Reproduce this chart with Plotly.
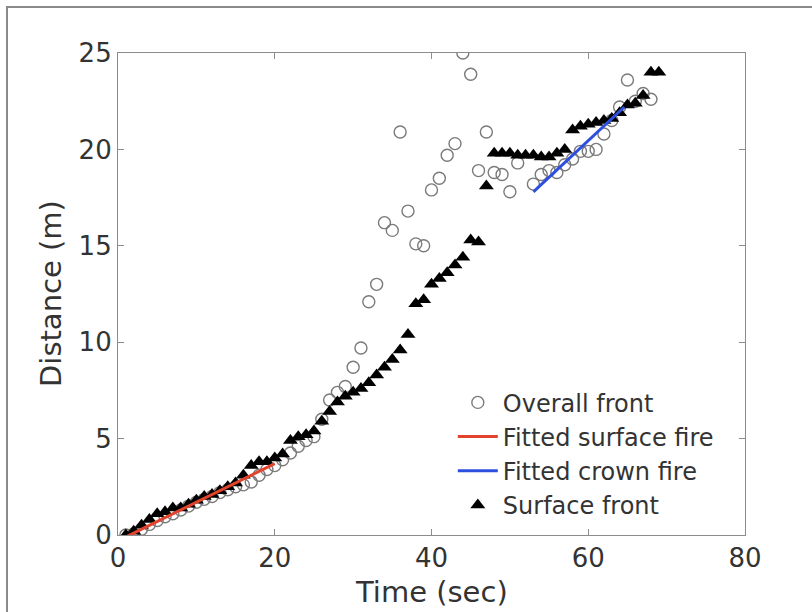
import plotly.graph_objects as go

# Overall front (open circles)
overall_t = [1, 2, 3, 4, 5, 6, 7, 8, 9, 10, 11, 12, 13, 14, 15, 16, 17, 18, 19, 20,
             21, 22, 23, 24, 25, 26, 27, 28, 29, 30, 31, 32, 33, 34, 35, 36, 37, 38, 39, 40,
             41, 42, 43, 44, 45, 46, 47, 48, 49, 50, 51, 53, 54, 55, 56, 57, 58, 59, 60,
             61, 62, 63, 64, 65, 66, 67, 68]
overall_d = [0.0, 0.05, 0.3, 0.55, 0.75, 0.95, 1.1, 1.3, 1.5, 1.7, 1.85, 2.0, 2.2, 2.35, 2.5, 2.6, 2.75, 3.1, 3.4, 3.6,
             3.9, 4.25, 4.6, 4.9, 5.1, 6.0, 7.0, 7.4, 7.7, 8.7, 9.7, 12.1, 13.0, 16.2, 15.8, 20.9, 16.8, 15.1, 15.0, 17.9,
             18.5, 19.7, 20.3, 25.0, 23.9, 18.9, 20.9, 18.8, 18.7, 17.8, 19.3, 18.2, 18.7, 18.9, 18.8, 19.2, 19.5, 19.9, 19.9,
             20.0, 20.8, 21.5, 22.2, 23.6, 22.5, 22.9, 22.6]

# Surface front (filled triangles)
surface_t = list(range(1, 70))
surface_d = [0.0, 0.2, 0.5, 0.8, 1.1, 1.2, 1.4, 1.4, 1.6, 1.8, 2.0, 2.1, 2.3, 2.5, 2.7, 3.1, 3.6, 3.8, 3.8, 4.0,
             4.2, 4.9, 5.1, 5.2, 5.4, 5.9, 6.4, 6.9, 7.2, 7.4, 7.6, 7.9, 8.3, 8.7, 9.1, 9.6, 10.4, 12.0, 12.2, 13.0,
             13.3, 13.6, 14.0, 14.4, 15.3, 15.2, 18.1, 19.8, 19.8, 19.8, 19.7, 19.7, 19.7, 19.6, 19.6, 19.8, 20.0, 21.0, 21.2,
             21.3, 21.4, 21.5, 21.6, 21.9, 22.3, 22.4, 22.8, 24.0, 24.0]

# Fitted lines
surface_fit_t = [1, 20]
surface_fit_d = [-0.1, 3.7]
crown_fit_t = [53, 64.6]
crown_fit_d = [17.8, 22.2]

x_ticks = [0, 20, 40, 60, 80]
y_ticks = [0, 5, 10, 15, 20, 25]
x_title = "Time (sec)"
y_title = "Distance (m)"

FONT = "DejaVu Sans"
TXT = "#333333"
AX = "#8c8c8c"

fig = go.Figure()
fig.add_trace(go.Scatter(
    x=overall_t, y=overall_d, mode="markers", name="Overall front", legendrank=1,
    marker=dict(symbol="circle-open", size=12, color="#7a7a7a", line=dict(width=1.4, color="#7a7a7a")),
))
fig.add_trace(go.Scatter(
    x=surface_t, y=surface_d, mode="markers", name="Surface front", legendrank=4,
    marker=dict(symbol="triangle-up", size=13, color="black"),
))
fig.add_trace(go.Scatter(
    x=surface_fit_t, y=surface_fit_d, mode="lines", name="Fitted surface fire", legendrank=2,
    line=dict(color="#e2432d", width=3),
))
fig.add_trace(go.Scatter(
    x=crown_fit_t, y=crown_fit_d, mode="lines", name="Fitted crown fire", legendrank=3,
    line=dict(color="#2d4fe0", width=3),
))

axis_common = dict(
    showgrid=False, zeroline=False, showline=True, linecolor=AX, linewidth=1.2,
    mirror="allticks", ticks="inside", ticklen=6, tickcolor=AX, tickwidth=1,
    tickfont=dict(family=FONT, size=26, color=TXT), automargin=False,
)
fig.update_xaxes(range=[0, 80], tickvals=x_ticks, ticktext=[str(v) for v in x_ticks], **axis_common)
fig.update_yaxes(range=[0, 25], tickvals=y_ticks, ticktext=[str(v) for v in y_ticks], **axis_common)

# axis titles placed as text annotations
fig.add_annotation(text=x_title, xref="paper", yref="paper", x=0.5, y=(535 - 592) / 482,
                   xanchor="center", yanchor="middle", showarrow=False,
                   font=dict(family=FONT, size=29, color=TXT))
fig.add_annotation(text=y_title, xref="paper", yref="paper", x=(51 - 118) / 627, y=0.5,
                   xanchor="center", yanchor="middle", showarrow=False, textangle=-90,
                   font=dict(family=FONT, size=29, color=TXT))

fig.update_layout(
    width=812, height=612,
    margin=dict(l=118, r=67, t=53, b=77),
    paper_bgcolor="white", plot_bgcolor="white",
    font=dict(family=FONT, color=TXT),
    legend=dict(x=0.534, y=0.321, xanchor="left", yanchor="top", bgcolor="rgba(0,0,0,0)",
                font=dict(family=FONT, size=24, color=TXT), tracegroupgap=0, itemwidth=40),
    showlegend=True,
)
# outer figure frame
fig.add_shape(type="rect", xref="paper", yref="paper",
              x0=(7 - 118) / 627, x1=(830 - 118) / 627, y0=(535 - 640) / 482, y1=(535 - 7) / 482,
              line=dict(color="#8a8a8a", width=2), fillcolor="rgba(0,0,0,0)", layer="below")

fig.write_html("out.html")
